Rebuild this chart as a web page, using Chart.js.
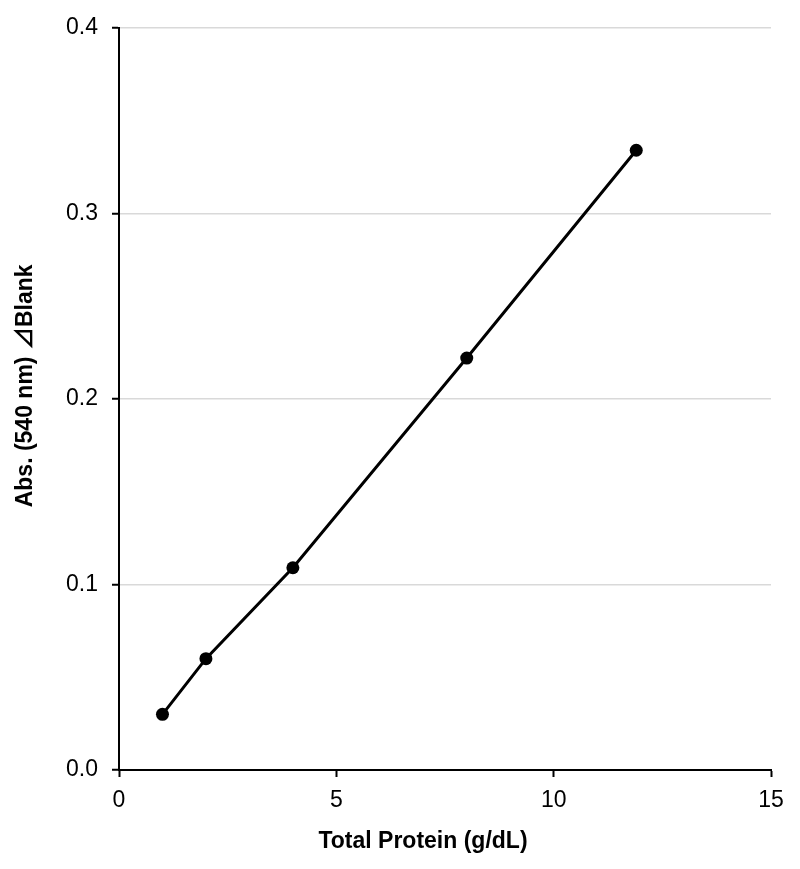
<!DOCTYPE html>
<html>
<head>
<meta charset="utf-8">
<script src="https://cdn.jsdelivr.net/npm/chart.js@4"></script>
<style>
  html, body { margin: 0; padding: 0; background: #fff; }
  #wrap { width: 800px; height: 869px; }
</style>
</head>
<body>
<div id="wrap"><canvas id="chart" width="800" height="869"></canvas></div>
<script>
// values
const protein = [1, 2, 4, 8, 11.9];          // g/dL
const absorbance = [0.030, 0.060, 0.109, 0.222, 0.334];
const xTicks = [0, 5, 10, 15];
const yTicks = [0.0, 0.1, 0.2, 0.3, 0.4];

const xTitle = 'Total Protein (g/dL)';
const yTitle = 'Abs. (540 nm) ⊿Blank';

const FONT = '"Liberation Sans", Arial, sans-serif';
// the triangle sign is not in Liberation Sans, let it fall back to a CJK face
const TITLE_FONT = '"Liberation Sans", Arial, "Noto Sans CJK JP", sans-serif';

// axis titles are not centred on the plot area in the original, so draw them here
const axisTitles = {
  id: 'axisTitles',
  afterDraw(chart) {
    const { ctx, chartArea } = chart;
    ctx.save();
    ctx.fillStyle = '#000';
    ctx.font = 'bold 23px ' + TITLE_FONT;
    ctx.textAlign = 'center';
    ctx.textBaseline = 'middle';
    ctx.fillText(xTitle, (chartArea.left + chartArea.right) / 2 - 22, chart.height - 27);
    ctx.translate(26, (chartArea.top + chartArea.bottom) / 2 - 13);
    ctx.rotate(-Math.PI / 2);
    ctx.fillText(yTitle, 0, 0);
    ctx.restore();
  }
};

const points = protein.map((x, i) => ({ x: x, y: absorbance[i] }));

new Chart(document.getElementById('chart').getContext('2d'), {
  type: 'scatter',
  data: {
    datasets: [{
      data: points,
      showLine: true,
      borderColor: '#000',
      backgroundColor: '#000',
      borderWidth: 3,
      pointRadius: 6.5,
      pointHoverRadius: 6.5,
      pointBorderWidth: 0
    }]
  },
  options: {
    responsive: false,
    animation: false,
    devicePixelRatio: 1,
    layout: { padding: { top: 26, right: 29, bottom: 0, left: 0 } },
    plugins: {
      legend: { display: false },
      tooltip: { enabled: false }
    },
    scales: {
      x: {
        type: 'linear',
        min: 0,
        max: 15,
        afterBuildTicks: (s) => { s.ticks = xTicks.map(v => ({ value: v })); },
        afterFit: (s) => { s.height = 99; },
        ticks: {
          color: '#000',
          font: { family: FONT, size: 23 },
          padding: 10,
          maxRotation: 0
        },
        grid: {
          drawOnChartArea: false,
          tickLength: 7,
          tickColor: '#000',
          tickWidth: 2
        },
        border: { color: '#000', width: 2 }
      },
      y: {
        type: 'linear',
        min: 0,
        max: 0.4,
        afterBuildTicks: (s) => { s.ticks = yTicks.map(v => ({ value: v })); },
        afterFit: (s) => { s.width = 119; },
        ticks: {
          color: '#000',
          font: { family: FONT, size: 23 },
          padding: 14,
          callback: (v) => Number(v).toFixed(1)
        },
        grid: {
          color: '#d9d9d9',
          lineWidth: 1.5,
          tickLength: 7,
          tickColor: '#000',
          tickWidth: 2
        },
        border: { color: '#000', width: 2 }
      }
    }
  },
  plugins: [axisTitles]
});
</script>
</body>
</html>
